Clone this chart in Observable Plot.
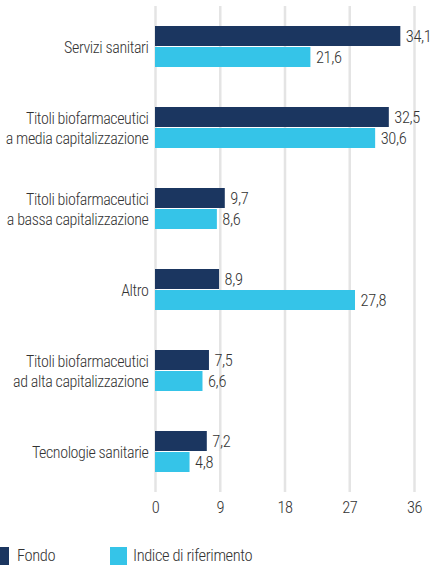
<!DOCTYPE html>
<html>
<head>
<meta charset="utf-8">
<script src="https://cdn.jsdelivr.net/npm/d3@7"></script>
<script src="https://cdn.jsdelivr.net/npm/@observablehq/plot@0.6"></script>
<style>
  html, body { margin: 0; padding: 0; background: #fff; overflow: hidden; }
  body { width: 434px; height: 565px; position: relative; font-family: "Roboto Condensed", "Liberation Sans Narrow", "DejaVu Sans Condensed", sans-serif; font-weight: 300; color: #333; }
  svg text { letter-spacing: -0.4px; }
  #legend { position: absolute; left: 0; top: 547px; width: 434px; height: 20px; font-size: 16.5px; letter-spacing: -0.4px; }
  .sw { position: absolute; top: 0; width: 17px; height: 18px; }
  .lb { position: absolute; top: -1px; line-height: 20px; white-space: nowrap; }
</style>
</head>
<body>
<div id="chart"></div>
<div id="legend"></div>
<script>
const categories = [
  "Servizi sanitari",
  "Titoli biofarmaceutici\na media capitalizzazione",
  "Titoli biofarmaceutici\na bassa capitalizzazione",
  "Altro",
  "Titoli biofarmaceutici\nad alta capitalizzazione",
  "Tecnologie sanitarie"
];
const fondo = [34.1, 32.5, 9.7, 8.9, 7.5, 7.2];
const indice = [21.6, 30.6, 8.6, 27.8, 6.6, 4.8];
const xTicks = [0, 9, 18, 27, 36];
const seriesNames = ["Fondo", "Indice di riferimento"];
const colors = ["#1b3660", "#35c4e8"];

const fmt = v => d3.format(".1f")(v).replace(".", ",");
const dataF = categories.map((c, i) => ({cat: c, value: fondo[i]}));
const dataI = categories.map((c, i) => ({cat: c, value: indice[i]}));

const font = `"Roboto Condensed", "Liberation Sans Narrow", "DejaVu Sans Condensed", sans-serif`;

const chart = Plot.plot({
  width: 434,
  height: 530,
  marginLeft: 155,
  marginRight: 20,
  marginTop: 6,
  marginBottom: 38,
  style: {fontFamily: font, fontSize: "16px", fontWeight: 300, color: "#333", background: "#fff", overflow: "visible"},
  x: {domain: [0, 36]},
  y: {domain: categories, paddingInner: 0.5, paddingOuter: 0.25},
  marks: [
    Plot.ruleX(xTicks, {stroke: "#e4e4e4", strokeWidth: 2.5}),
    Plot.barX(dataF, {x: "value", y: "cat", fill: colors[0], insetBottom: 21}),
    Plot.barX(dataI, {x: "value", y: "cat", fill: colors[1], insetTop: 21}),
    Plot.text(dataF, {x: "value", y: "cat", text: d => fmt(d.value), dx: 5, dy: -10, textAnchor: "start", fill: "#333", fontSize: 16.5}),
    Plot.text(dataI, {x: "value", y: "cat", text: d => fmt(d.value), dx: 5, dy: 11, textAnchor: "start", fill: "#333", fontSize: 16.5}),
    Plot.axisY({tickSize: 0, tickPadding: 7, label: null, lineHeight: 1.25, fill: "#333", fontSize: 16}),
    Plot.axisX({ticks: xTicks, tickSize: 0, tickPadding: 9, label: null, fill: "#333", fontSize: 16.5})
  ]
});
document.getElementById("chart").appendChild(chart);

const legend = document.getElementById("legend");
const items = [
  {sx: -8, tx: 17},
  {sx: 110, tx: 133}
];
seriesNames.forEach((name, i) => {
  const sw = document.createElement("div");
  sw.className = "sw";
  sw.style.left = items[i].sx + "px";
  sw.style.background = colors[i];
  legend.appendChild(sw);
  const lb = document.createElement("div");
  lb.className = "lb";
  lb.style.left = items[i].tx + "px";
  lb.textContent = name;
  legend.appendChild(lb);
});
</script>
</body>
</html>
